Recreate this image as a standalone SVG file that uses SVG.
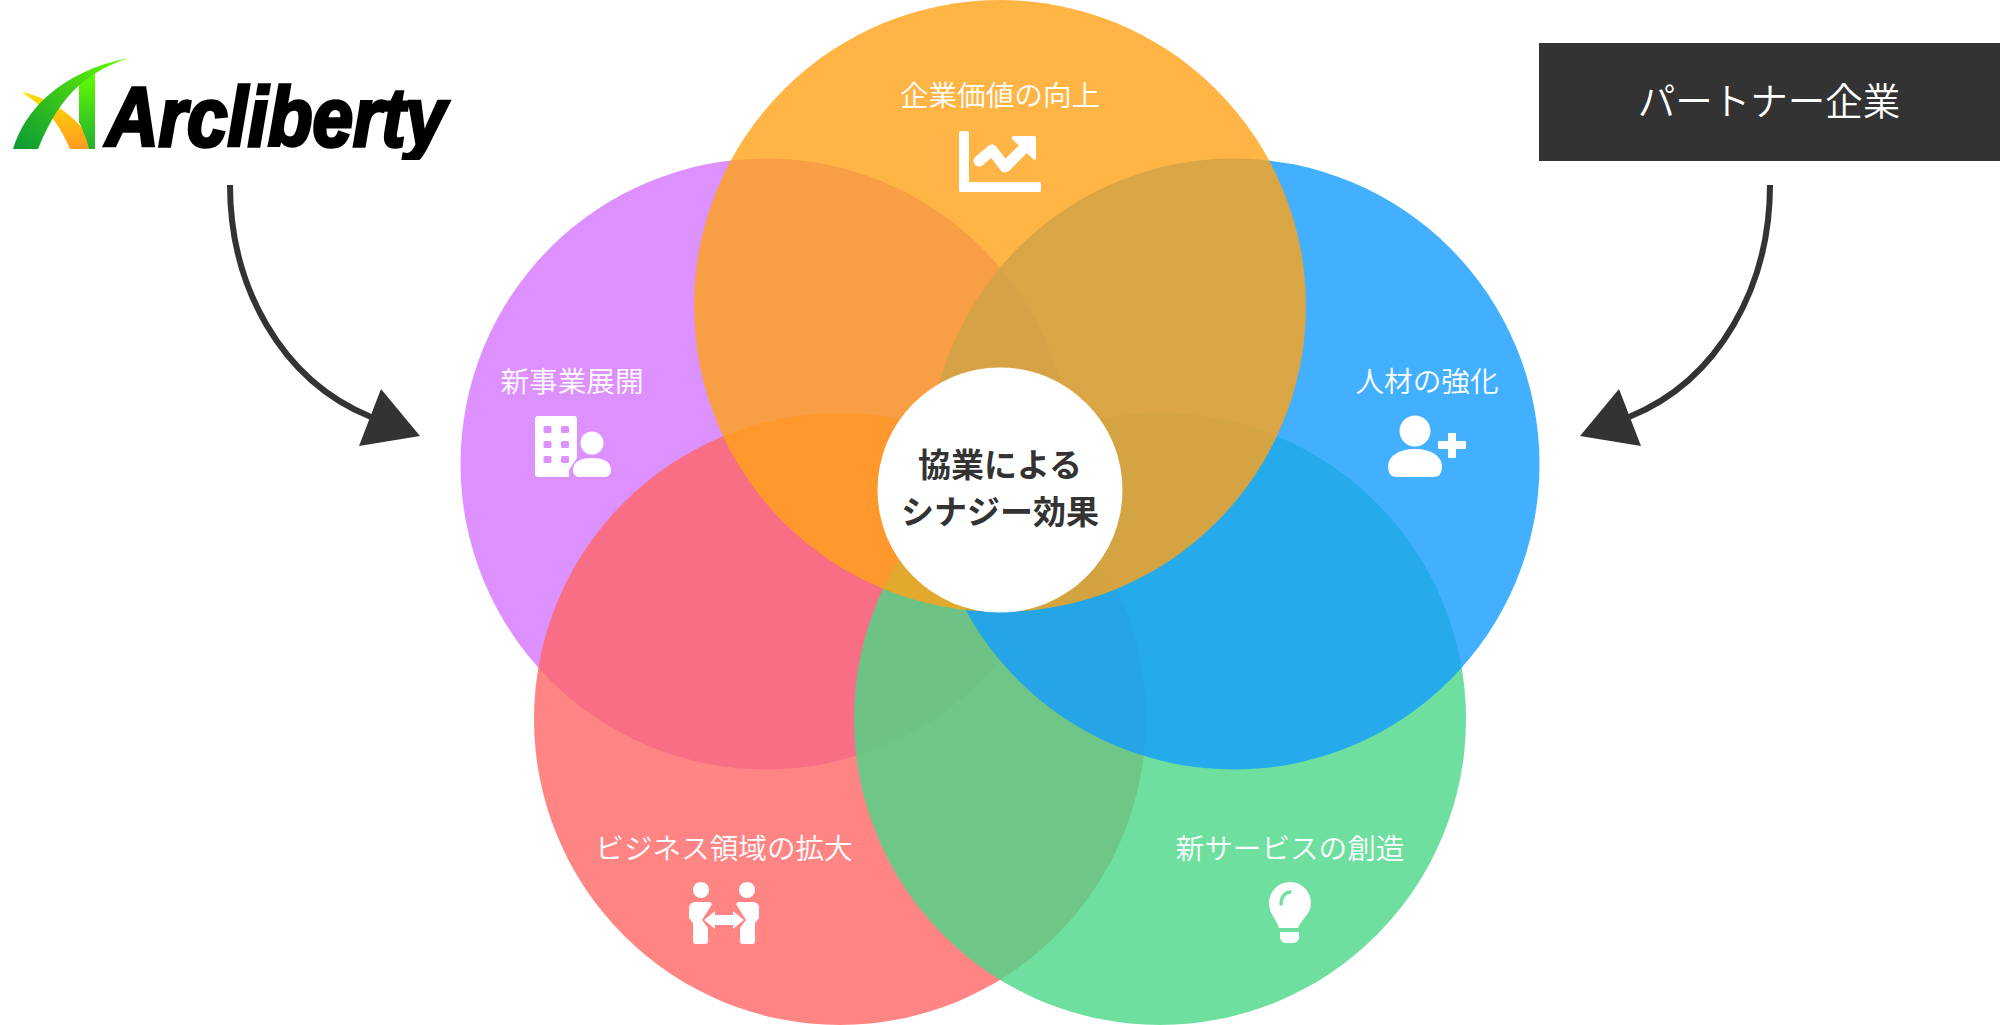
<svg xmlns="http://www.w3.org/2000/svg" width="2000" height="1025" viewBox="0 0 2000 1025">
<style>
text{font-family:"Noto Sans CJK JP","Noto Sans",sans-serif;text-anchor:middle}
.lab{font-size:28.600px;font-weight:350;fill:#fff}
.ctr{font-size:33px;font-weight:700;fill:#333}
.c{fill-opacity:.8}
.w{fill:#fff}
.conn{fill:none;stroke:#333;stroke-width:6}
.head{fill:#333}
</style>
<defs>
<linearGradient id="lg" x1="0" y1="1" x2="1" y2="0"><stop offset="0" stop-color="#0a9a35"/><stop offset=".5" stop-color="#3cc51a"/><stop offset="1" stop-color="#66ff00"/></linearGradient>
<linearGradient id="lo" x1="0" y1="0" x2="0" y2="1"><stop offset="0" stop-color="#ffe000"/><stop offset="1" stop-color="#ff9a20"/></linearGradient>
<linearGradient id="ls" x1="0" y1="1" x2="0" y2="0"><stop offset="0" stop-color="#20b030"/><stop offset="1" stop-color="#66ff00"/></linearGradient>
<clipPath id="logoclip"><rect x="90" y="70" width="380" height="90"/></clipPath>
</defs>
<rect width="2000" height="1025" fill="#fff"/>
<g id="node-new-business"><circle class="c" cx="766" cy="464" r="305.500" fill="#d476ff"/>
<text class="lab" x="572" y="392">新事業展開</text>
<path class="w" d="M538,416H574a3,3 0 0 1 3,3V458L569,470V477H538a3,3 0 0 1 -3,-3V419a3,3 0 0 1 3,-3Z"/>
<g fill="#dd91ff"><rect x="543.500" y="426" width="8" height="7" rx="1.500"/><rect x="561" y="426" width="8" height="7" rx="1.500"/><rect x="543.500" y="441" width="8" height="7" rx="1.500"/><rect x="561" y="441" width="8" height="7" rx="1.500"/><rect x="543.500" y="456" width="8" height="7" rx="1.500"/><rect x="561" y="456" width="8" height="7" rx="1.500"/></g>
<circle class="w" cx="592" cy="443" r="11.500"/>
<path class="w" d="M573,470C573,462 580,458 592,458S611,462 611,470Q611,477 604,477H580Q573,477 573,470Z"/>
</g>
<g id="node-expansion"><circle class="c" cx="840" cy="719" r="306" fill="#ff6767"/>
<text class="lab" x="724" y="859">ビジネス領域の拡大</text>
<circle class="w" cx="701" cy="890" r="8"/><circle class="w" cx="747" cy="890" r="8"/>
<path class="w" d="M696,902H710L712,904L702,920L708,928V941a3,3 0 0 1 -3,3H696a3,3 0 0 1 -3,-3V923L689,918V908Q689,902 696,902Z"/>
<path class="w" d="M752,902H738L736,904L746,920L740,928V941a3,3 0 0 0 3,3H752a3,3 0 0 0 3,-3V923L759,918V908Q759,902 752,902Z"/>
<path class="w" d="M704,920L715,911V915H733V911L744,920L733,929V925H715V929Z"/>
</g>
<g id="node-new-service"><circle class="c" cx="1160" cy="719" r="306" fill="#4ad786"/>
<text class="lab" x="1290" y="859">新サービスの創造</text>
<path class="w" d="M1279,928C1276,918 1269,914 1269,903A21,21 0 0 1 1311,903C1311,914 1302,918 1298,928Z"/>
<path class="w" d="M1280,932H1299V937a6,6 0 0 1 -6,6H1286a6,6 0 0 1 -6,-6Z"/>
<path d="M1281,904C1281,898 1284,893 1290,892" fill="none" stroke="#6edf9e" stroke-width="3.500" stroke-linecap="round"/>
</g>
<g id="node-talent"><circle class="c" cx="1234" cy="464" r="305.500" fill="#139cff"/>
<text class="lab" x="1427" y="392">人材の強化</text>
<circle class="w" cx="1415" cy="431" r="15.500"/>
<path class="w" d="M1388,467C1388,456 1399,449 1415,449S1442,456 1442,467Q1442,477 1433,477H1397Q1388,477 1388,467Z"/>
<path class="w" d="M1449,433H1455a1,1 0 0 1 1,1V441H1465a1,1 0 0 1 1,1V448a1,1 0 0 1 -1,1H1456V457a1,1 0 0 1 -1,1H1449a1,1 0 0 1 -1,-1V449H1439a1,1 0 0 1 -1,-1V442a1,1 0 0 1 1,-1H1448V434a1,1 0 0 1 1,-1Z"/>
</g>
<g id="node-value"><circle class="c" cx="1000" cy="306" r="306" fill="#ffa317"/>
<text class="lab" x="1000" y="106">企業価値の向上</text>
<path class="w" d="M961,131H967a2,2 0 0 1 2,2V182H1039a2,2 0 0 1 2,2V190a2,2 0 0 1 -2,2H961a2,2 0 0 1 -2,-2V133a2,2 0 0 1 2,-2Z"/>
<path d="M979,161L992,150L1005,167L1030,142" fill="none" stroke="#fff" stroke-width="11" stroke-linejoin="round" stroke-linecap="round"/>
<path class="w" d="M1014,136H1034a2,2 0 0 1 2,2V158Q1036,161 1033,159L1012,139Q1011,136 1014,136Z"/>
</g>
<g id="node-center"><circle class="w" cx="1000" cy="490" r="122.500"/>
<text class="ctr" x="1000" y="477">協業による</text>
<text class="ctr" x="1000" y="524">シナジー効果</text>
</g>
<g id="node-arcliberty">
<path fill="url(#lo)" d="M22,92C50,98 82,118 95,149H70C62,130 50,112 38,104Z"/>
<path fill="url(#ls)" d="M79,84L95,70V149L89,149C87,140 83,130 79,122Z"/>
<path fill="url(#lg)" d="M13,149C25,110 60,72 128,58C90,72 62,90 38,149Z"/>
<text x="106" y="146" font-size="84" font-weight="700" font-style="italic" textLength="340" lengthAdjust="spacingAndGlyphs" stroke="#000" stroke-width="3.500" clip-path="url(#logoclip)" style="font-family:'Liberation Sans',sans-serif;text-anchor:start">Arcliberty</text>
</g>
<g id="node-partner"><rect x="1539" y="43" width="461" height="118" fill="#333"/>
<text x="1769" y="115" font-size="37.500" font-weight="350" fill="#fff">パートナー企業</text>
</g>
<g id="connectors">
<path class="conn" d="M230,185C230,285 280,380 371,417"/>
<polygon class="head" points="381,389 420,436 359,446"/>
<path class="conn" d="M1770,185C1770,285 1720,380 1629,417"/>
<polygon class="head" points="1619,389 1580,436 1641,446"/>
</g>
</svg>
